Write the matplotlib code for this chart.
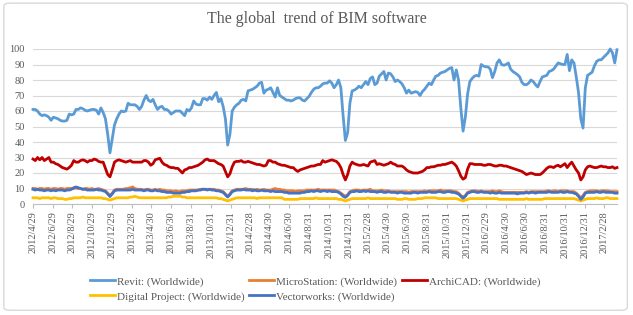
import numpy as np
import pandas as pd
import matplotlib
matplotlib.use("Agg")
import matplotlib.pyplot as plt
from matplotlib.patches import FancyBboxPatch

plt.rcParams['font.family'] = ['Liberation Serif', 'DejaVu Serif']

# weekly search interest (Google Trends style), first week 2012-04-29
revit = [61, 61, 60, 58, 57, 57.5, 57, 56, 54, 56, 55.5, 55, 54,
         53.5, 53.5, 54, 58, 57.5, 58, 61, 61, 62, 61.5, 60.5, 60, 60.5,
         61, 61, 60.5, 58, 62, 59, 55, 45, 33, 42, 51, 55, 58,
         60, 59.5, 60, 65, 64, 64, 64, 63, 61, 63, 67, 70, 67,
         66, 67.5, 64, 61, 62.5, 63, 61, 61, 60, 58, 59, 60, 60,
         60, 58.5, 57, 61, 60, 62, 66.5, 64.5, 64, 64, 68, 68, 67,
         69, 67.5, 70, 72, 66, 68, 63, 55, 38, 45, 60, 62.5, 64,
         65, 67, 67.5, 66.5, 73, 73.5, 74, 75, 76, 78, 78.5, 71.5, 73.5,
         74, 75, 72, 69, 75, 70, 69, 68, 67, 67, 66.5, 67, 68,
         68.5, 68.5, 67, 66.5, 68, 69.5, 72, 74, 75, 75, 76, 77.5, 78,
         78, 79.5, 78, 75, 77, 80, 75, 57, 41, 46, 65, 73, 73.5,
         74.5, 76, 75, 77, 79, 77, 81, 82, 77, 78, 82.5, 84, 85.5,
         80, 84.5, 84, 82, 79, 80, 79, 77.5, 75, 71.5, 73.5, 71.5, 72,
         72.5, 72, 70, 72.5, 74, 76, 78, 77, 80, 82.5, 83, 84.5, 85,
         85.5, 86.5, 87.5, 88, 80, 86.5, 80, 62, 47, 56, 71, 79, 81,
         82.5, 83, 82.5, 90, 89, 88.5, 88.5, 87, 81.5, 85.5, 91, 93, 90,
         89.5, 90, 91, 87, 85.5, 84.5, 83.5, 82, 78.5, 77, 77, 78, 80,
         79, 77, 75.5, 79, 82, 82.5, 83, 85.5, 86, 87, 89, 91, 90.5,
         90, 90, 96.5, 86, 93, 91, 82, 72, 55, 49, 75, 83, 84,
         85, 89, 92, 93, 93, 94.5, 96, 97.5, 100, 97.5, 91, 99.5]

microstation = [10, 10, 9.5, 10, 10, 9.5, 10, 10, 9.5, 10, 10, 9.5, 10,
                10, 9.5, 10, 10, 10, 10, 10.5, 10, 10, 9.5, 10, 10, 9.5,
                10, 9.5, 9.5, 10, 9.5, 9, 8.5, 7, 5.5, 7, 9, 9.5, 9.5,
                9.5, 9.5, 10, 10, 10.5, 11, 10, 9.5, 9.5, 9.5, 9, 9.5, 9.5,
                9, 9, 9.5, 9, 9.5, 9, 9, 8.5, 8.5, 8.5, 8, 8.5, 8,
                8, 8.5, 8.5, 8.5, 9, 9, 9, 9, 9, 9.5, 9.5, 9.5, 9.5,
                9.5, 9.5, 9.5, 9, 9, 8.5, 8, 6.5, 5, 6.5, 8.5, 9, 9.5,
                9.5, 9.5, 9.5, 10, 9.5, 9.5, 9.5, 9, 9.5, 9, 9, 9.5, 9,
                9, 9, 9.5, 10, 9.5, 9.5, 9, 9, 8.5, 8.5, 8.5, 8.5, 8,
                8.5, 8.5, 8.5, 8.5, 9, 9, 9, 9, 9, 9.5, 9, 9, 9,
                9, 9, 9, 9, 8.5, 8, 7, 6, 5, 6, 8, 8.5, 9,
                9, 9, 8.5, 9, 9, 9, 9.5, 8.5, 8.5, 8.5, 8.5, 9, 8.5,
                8.5, 8.5, 8, 8, 8, 8, 8, 8, 8, 8, 7.5, 8, 8,
                8, 8, 8, 8, 8.5, 8, 8.5, 8.5, 8.5, 8.5, 8.5, 9, 8.5,
                8.5, 8.5, 8.5, 8.5, 8, 8, 7, 5.5, 4.5, 5.5, 7.5, 8, 8.5,
                8.5, 8.5, 8, 8.5, 8, 8, 8, 8, 8.5, 8, 8, 8.5, 8,
                7.5, 7.5, 7.5, 7.5, 7.5, 7.5, 7.5, 7.5, 7.5, 7.5, 8, 7.5, 8,
                8, 8, 8, 8, 8, 8, 8.5, 8.5, 8, 8.5, 8.5, 8, 8.5,
                8.5, 8.5, 8.5, 8, 8, 8, 7, 5.5, 4, 5.5, 7.5, 8, 8.5,
                8.5, 8.5, 8.5, 8, 8.5, 8.5, 8.5, 8.5, 8, 8, 8, 8]

archicad = [29, 28, 30, 28.5, 30, 28, 29, 30, 27, 27, 26, 25.5, 24.5,
            23.5, 23, 22.5, 23.5, 25, 28, 27, 27, 28, 28.5, 28, 27, 28,
            28, 29, 28.5, 27.5, 27, 27, 23, 19, 17.5, 22, 27, 28, 28.5,
            28, 27.5, 27, 27.5, 28, 27, 27, 27, 27, 27, 28, 28, 27,
            25, 26, 28.5, 29, 29.5, 27, 25.5, 25, 24, 23.5, 23.5, 23, 23,
            21.5, 20, 22, 22.5, 23.5, 23.5, 24, 24.5, 25, 26, 27, 28.5, 29,
            28, 28, 28, 27, 26, 25.5, 24.5, 21, 17.5, 19.5, 24, 27, 27.5,
            27.5, 28, 27, 27, 27.5, 27, 26.5, 26, 25.5, 25.5, 25, 24.5, 25,
            28, 28, 27, 27, 26, 25.5, 25, 25, 24.5, 24, 23.5, 23.5, 22,
            21, 22, 22.5, 23, 23.5, 24, 24.5, 24.5, 25, 25.5, 25.5, 28, 27,
            27.5, 28, 28.5, 28, 27.5, 26, 23.5, 19, 15.5, 19, 24.5, 27, 26,
            25.5, 25, 25, 25.5, 25, 24.5, 27, 27.5, 28, 25.5, 26, 25.5, 25,
            25.5, 26, 27, 26, 25.5, 24.5, 24.5, 24.5, 23.5, 22, 21, 20.5, 20,
            20, 20, 20.5, 21, 22, 23.5, 23.5, 24, 24, 24.5, 25, 25, 25.5,
            25.5, 26, 26.5, 27, 26, 24.5, 21.5, 18, 16, 17, 22.5, 26, 26,
            25.5, 25.5, 25.5, 25.5, 25, 25, 25.5, 25.5, 25, 24.5, 24.5, 25, 25,
            24.5, 24.5, 24, 23.5, 23, 22.5, 22, 21.5, 21, 20, 19, 19.5, 20,
            19.5, 19, 19, 19, 20, 21.5, 23, 24, 24, 23.5, 24.5, 25, 24,
            25, 26, 23.5, 25.5, 27, 24.5, 22, 20, 15.5, 17.5, 22, 24, 24.5,
            24, 23.5, 23.5, 24, 24.5, 24, 24, 23.5, 23.5, 24, 23, 23.5]

digital_project = [4, 4, 4, 3.5, 4, 4, 4, 4, 3.5, 4, 4, 3.5, 3.5,
                   3.5, 3, 3, 3.5, 3.5, 4, 4, 4, 4, 4.5, 4, 4, 4,
                   4, 4, 4, 4, 4, 3.5, 3.5, 3, 2.5, 3, 3.5, 4, 4,
                   4, 4, 4, 4, 4.5, 4.5, 5, 4.5, 4, 4, 4, 4, 4,
                   4, 4, 4, 4, 4, 4, 4, 4, 4.5, 4.5, 5, 5, 5,
                   5, 4.5, 4.5, 4, 4, 4, 4, 4, 4, 4, 4, 4, 4,
                   4, 4, 4, 4, 3.5, 3.5, 3, 2.5, 2, 2.5, 3, 3.5, 4,
                   4, 4, 4, 4, 4, 4, 4, 4, 3.5, 4, 4, 4, 4,
                   4, 4, 4, 4, 4, 4, 4, 3, 3, 3, 3, 3, 3,
                   3, 3.5, 3.5, 3.5, 3.5, 3.5, 3.5, 3.5, 4, 3.5, 3.5, 3.5, 3.5,
                   3.5, 3.5, 3.5, 3.5, 3.5, 3, 3, 2.5, 2, 2.5, 3, 3.5, 3.5,
                   3.5, 3.5, 3.5, 3.5, 3.5, 4, 3.5, 3.5, 3.5, 3.5, 3.5, 3.5, 3.5,
                   3.5, 3.5, 3.5, 3.5, 3.5, 3, 3, 3, 3.5, 3.5, 3, 3, 3,
                   3, 3.5, 3.5, 3.5, 4, 4, 4, 4, 4, 4, 3.5, 3.5, 3.5,
                   3.5, 3.5, 3.5, 3.5, 3.5, 3.5, 3, 2.5, 2, 2.5, 3, 3.5, 3.5,
                   3.5, 3.5, 3.5, 3.5, 3.5, 3.5, 3.5, 3.5, 3.5, 3.5, 3.5, 3, 3,
                   3, 3, 3, 3, 3, 3, 3, 3, 3, 3, 3.5, 3, 3,
                   3, 3, 3, 3, 3, 3.5, 3.5, 3.5, 3.5, 3.5, 3.5, 3.5, 3.5,
                   3.5, 3.5, 3.5, 3.5, 3.5, 3.5, 3, 2.5, 2, 2.5, 3, 3.5, 3.5,
                   3.5, 3.5, 4, 3.5, 3.5, 3.5, 4, 4, 3.5, 3.5, 3.5, 3.5]

vectorworks = [9.5, 9, 9.5, 9, 9, 8.5, 9, 9, 8.5, 9, 8.5, 9, 9,
               9, 8.5, 9, 9, 9.5, 10.5, 11, 10.5, 10, 9.5, 9.5, 9, 9,
               9, 9, 9.5, 9, 9, 8.5, 8, 6.5, 4.8, 6.5, 8.5, 9, 9,
               9, 9, 9, 9, 9, 9.5, 9, 9, 9, 9, 8.5, 9, 9,
               8.5, 8.5, 9, 8.5, 8.5, 8, 8, 7.5, 7.5, 7.5, 7, 7, 7,
               7, 7.5, 7.5, 8, 8, 8.5, 8.5, 8.5, 9, 9, 9.5, 9.5, 9,
               9.5, 9, 9, 8.5, 8.5, 8, 7.5, 6, 4.5, 6, 8, 8.5, 9,
               9, 9, 9.5, 9, 9, 9, 8.5, 9, 8.5, 8.5, 9, 8.5, 8.5,
               8.5, 8, 8.5, 8, 8, 8, 8, 7.5, 7.5, 7, 7, 7, 7,
               7, 7, 7.5, 7.5, 8, 8, 8.5, 8, 8.5, 8.5, 8, 8.5, 8.5,
               8, 8.5, 8, 8, 8, 7.5, 6.5, 5, 4.3, 5.5, 7.5, 8, 8,
               8.5, 8, 8, 8.5, 8, 8.5, 8, 8, 8, 7.5, 8, 8, 7.5,
               7.5, 8, 7.5, 7.5, 7.5, 7, 7.5, 7.5, 7, 7, 7, 7, 7.5,
               7.5, 7, 7.5, 7.5, 7.5, 7.5, 8, 7.5, 7.5, 7.5, 8, 8, 7.5,
               7.5, 8, 8, 7.5, 7.5, 7, 6.5, 5, 3.7, 5, 7, 7.5, 8,
               8, 7.5, 7.5, 8, 7.5, 7.5, 7.5, 7, 7.5, 7, 7, 7.5, 7,
               7, 7, 7, 7, 7, 7, 6.5, 7, 7, 7, 7.5, 7, 7.5,
               7.5, 7, 7.5, 7.5, 7.5, 7.5, 7.5, 8, 7.5, 7.5, 7.5, 7.5, 8,
               7.5, 7.5, 8, 7.5, 7.5, 7, 6.5, 5, 3, 4.5, 7, 7.5, 7.5,
               7.5, 7.5, 8, 7.5, 7.5, 8, 7.5, 7.5, 7.5, 7.5, 7, 7]

tick_labels = ['2012/4/29', '2012/6/29', '2012/8/29', '2012/10/29', '2012/12/29',
               '2013/2/28', '2013/4/30', '2013/6/30', '2013/8/31', '2013/10/31',
               '2013/12/31', '2014/2/28', '2014/4/30', '2014/6/30', '2014/8/31',
               '2014/10/31', '2014/12/31', '2015/2/28', '2015/4/30', '2015/6/30',
               '2015/8/31', '2015/10/31', '2015/12/31', '2016/2/29', '2016/4/30',
               '2016/6/30', '2016/8/31', '2016/10/31', '2016/12/31', '2017/2/28']

weeks = pd.date_range('2012-04-29', periods=len(revit), freq='7D')
tick_dates = pd.to_datetime(tick_labels, format='%Y/%m/%d')

fig = plt.figure(figsize=(6.33, 3.15), dpi=100)
fig.patches.append(FancyBboxPatch((0.006, 0.015), 0.985, 0.975,
                                  boxstyle='round,pad=0,rounding_size=0.01',
                                  transform=fig.transFigure, facecolor='white',
                                  edgecolor='#D9D9D9', linewidth=1.0, zorder=-10))
ax = fig.add_axes([33 / 633, 111 / 315, 584 / 633, 155 / 315])
ax.set_facecolor('none')

lw = 2.0
l1, = ax.plot(weeks, revit, color='#5B9BD5', lw=lw, label='Revit: (Worldwide)')
l2, = ax.plot(weeks, microstation, color='#ED7D31', lw=lw, label='MicroStation: (Worldwide)')
l3, = ax.plot(weeks, archicad, color='#C00000', lw=lw, label='ArchiCAD: (Worldwide)')
l4, = ax.plot(weeks, digital_project, color='#FFC000', lw=lw, label='Digital Project: (Worldwide)')
l5, = ax.plot(weeks, vectorworks, color='#4472C4', lw=lw, label='Vectorworks: (Worldwide)')
for l in (l1, l2, l3, l4, l5):
    l.set_clip_on(False)

ax.set_ylim(0, 100)
ax.set_yticks(np.arange(0, 101, 10))
ax.set_xlim(weeks[0], weeks[-1])
ax.set_xticks(tick_dates)
ax.set_xticklabels(tick_labels, rotation=90)
ax.grid(axis='y', color='#D9D9D9', lw=0.8)
ax.set_axisbelow(True)
for s in ('top', 'right', 'left'):
    ax.spines[s].set_visible(False)
ax.spines['bottom'].set_color('#BFBFBF')
ax.tick_params(axis='y', length=0, pad=6, labelsize=7.5, labelcolor='#595959')
ax.tick_params(axis='x', length=3, color='#BFBFBF', pad=2, labelsize=7.5, labelcolor='#595959')

fig.text(0.5, 1 - 19 / 315, 'The global  trend of BIM software', ha='center', va='center',
         fontsize=11.5, color='#595959')

fig.legend([l1, l4, l2, l5, l3], [l.get_label() for l in (l1, l4, l2, l5, l3)],
           ncol=3, loc='upper left', bbox_to_anchor=(84 / 633, 1 - 271 / 315),
           frameon=False, fontsize=8, labelcolor='#595959', handlelength=2.3,
           handletextpad=0.15, columnspacing=0.4, labelspacing=0.45, borderpad=0)

fig.savefig('out.png', dpi=100)
